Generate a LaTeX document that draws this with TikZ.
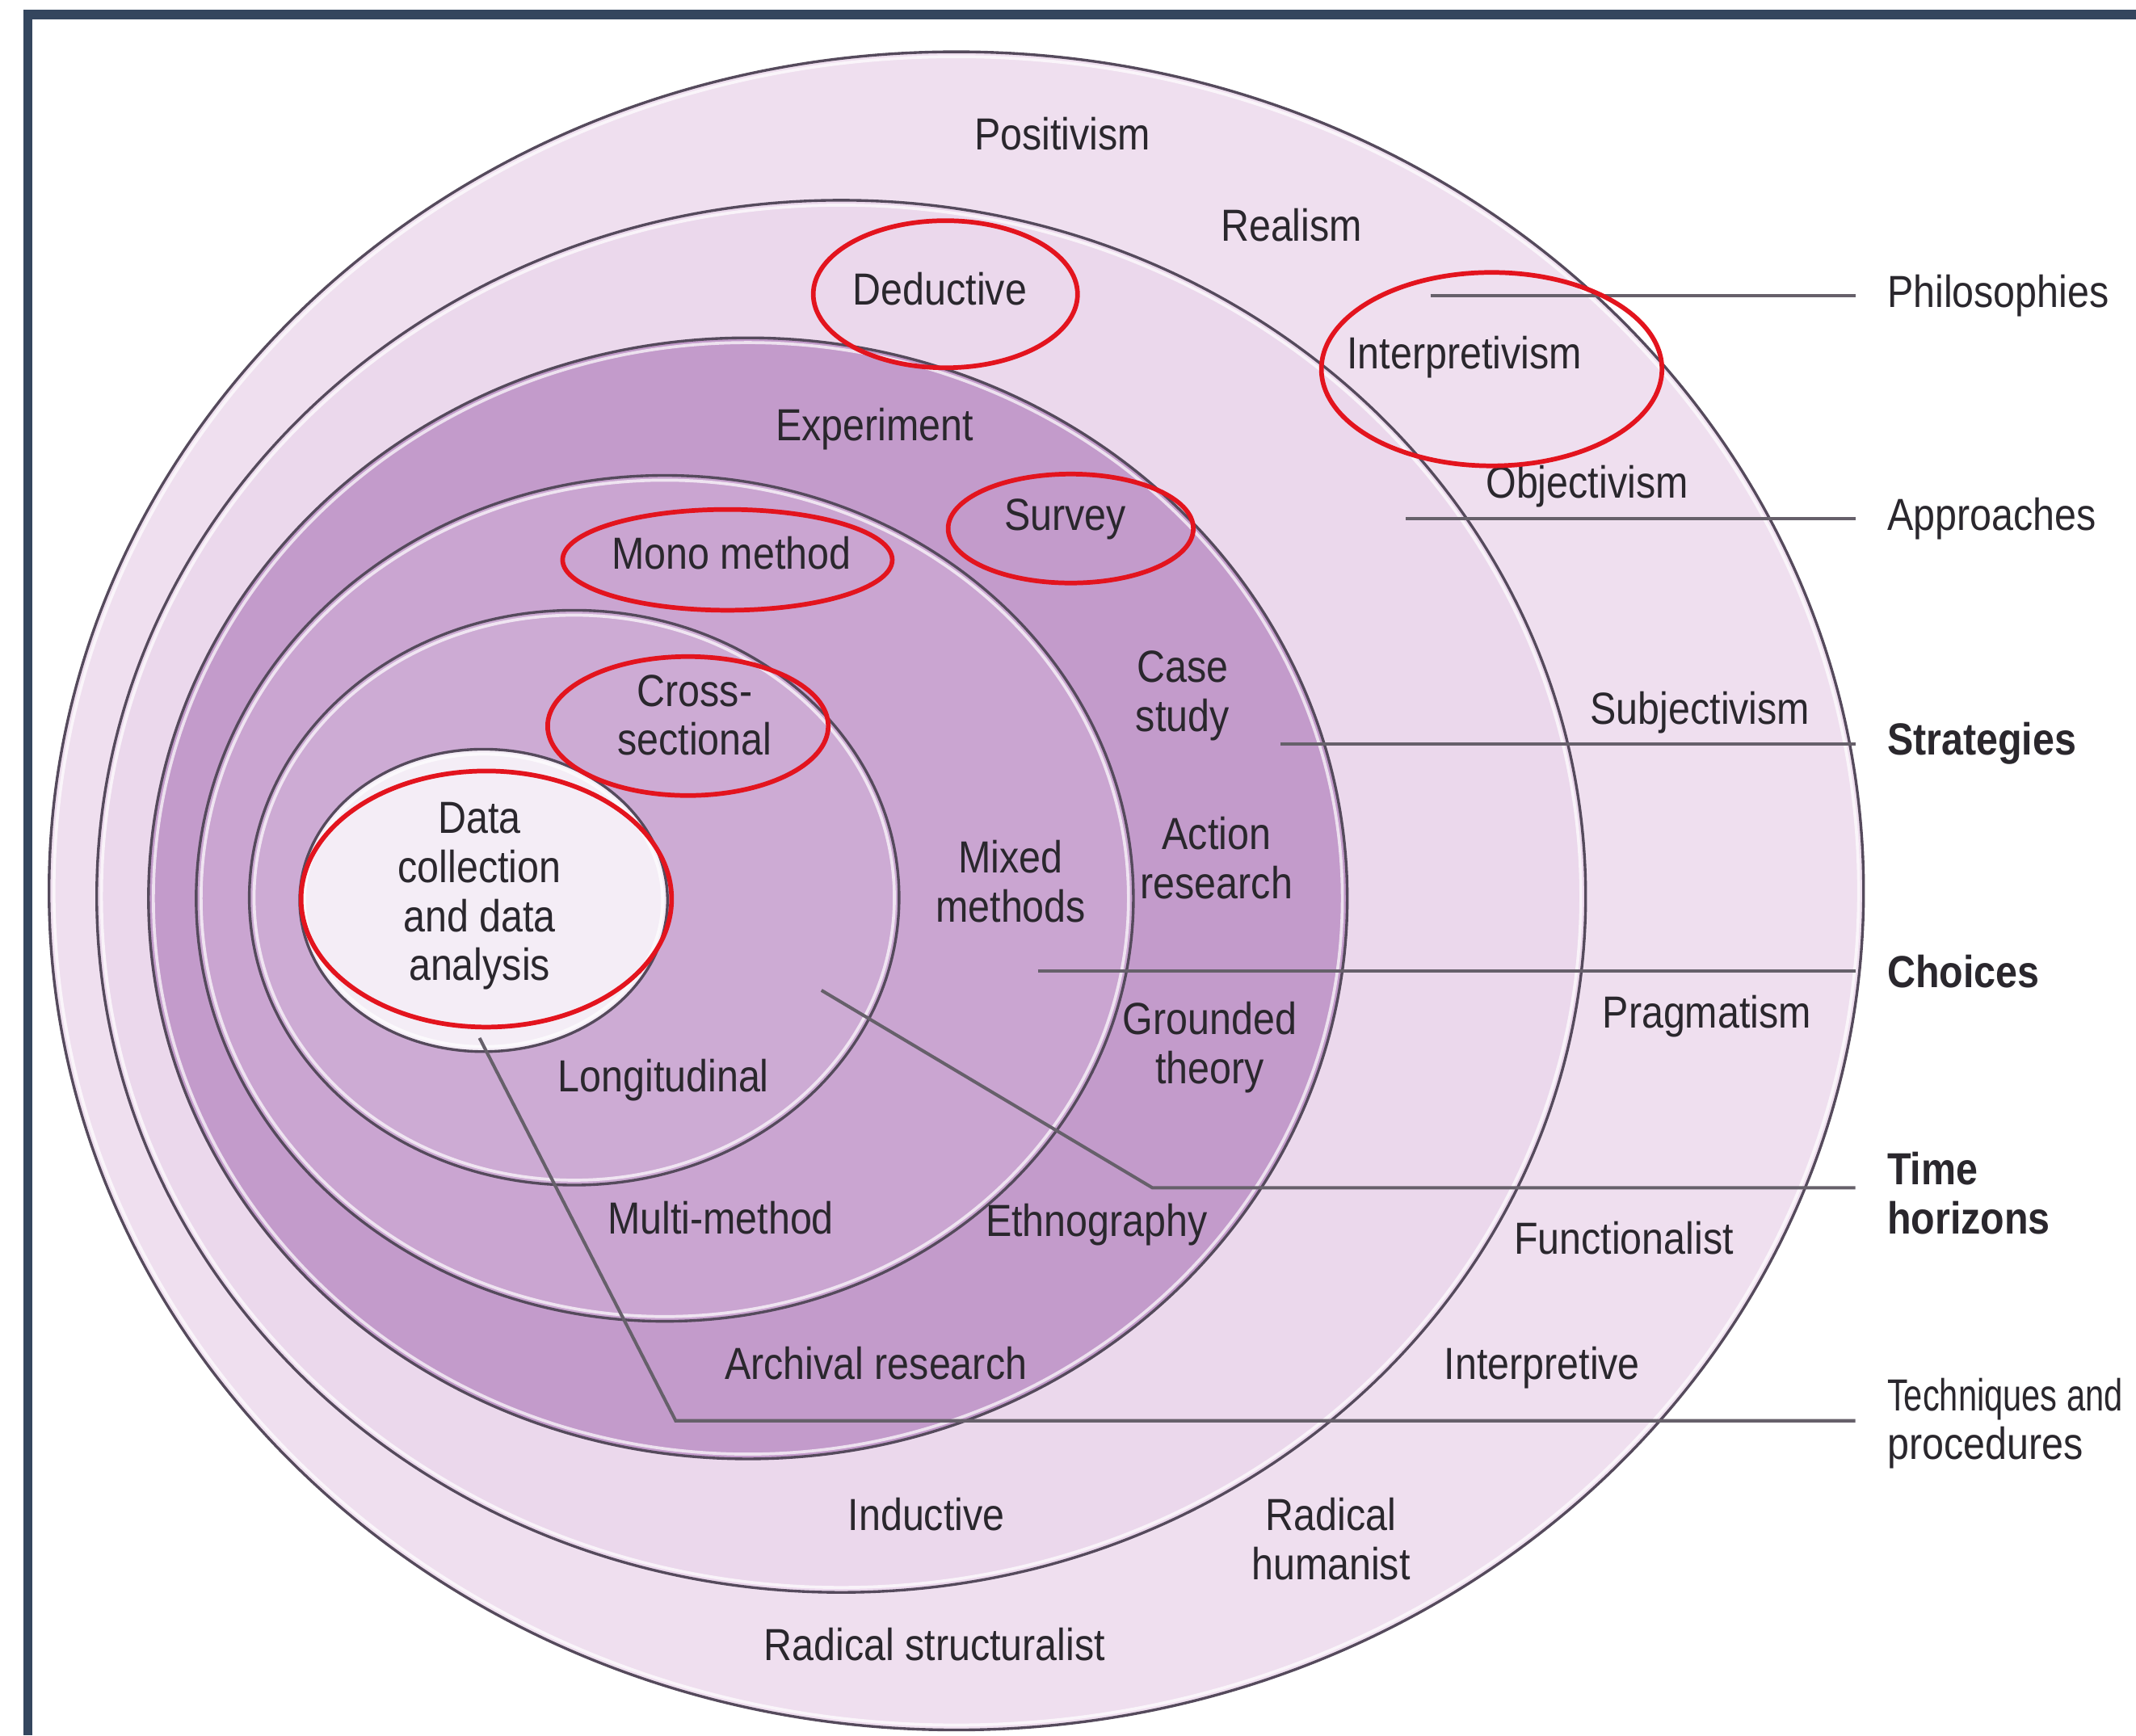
\documentclass[tikz,border=0pt]{standalone}
\usepackage{fontspec}
\setmainfont[FakeStretch=0.87]{Liberation Sans}
\definecolor{ringA}{HTML}{EFDFEF}
\definecolor{ringB}{HTML}{EBD8EC}
\definecolor{ringC}{HTML}{C39BCB}
\definecolor{ringD}{HTML}{CAA5D1}
\definecolor{ringE}{HTML}{CDABD4}
\definecolor{coreC}{HTML}{F4EDF6}
\definecolor{edge}{HTML}{554A5C}
\definecolor{conn}{HTML}{66606A}
\definecolor{txt}{HTML}{2A272D}
\definecolor{redmark}{HTML}{E3141E}
\definecolor{frameC}{HTML}{34465E}
\begin{document}
\begin{tikzpicture}[x=0.5pt,y=-0.5pt,
  lbl/.style={font=\fontsize{16.5}{18}\selectfont, text=txt, align=center, inner sep=0pt},
  side/.style={font=\fontsize{16.5}{18}\selectfont, text=txt, align=left, anchor=west, inner xsep=11.5pt, inner ysep=0pt},
  sideb/.style={side, font=\fontsize{16.5}{18}\selectfont\bfseries},
  ringline/.style={draw=edge, line width=1pt},
  shine/.style={draw=white, line width=1.1pt, opacity=0.7},
  conline/.style={draw=conn, line width=1.2pt},
  redring/.style={draw=redmark, line width=1.7pt}]
\useasboundingbox (0,0) rectangle (1568,1274);
\fill[white] (0,0) rectangle (1568,1274);
% frame
\fill[frameC] (17,7) rectangle (1568,14);
\fill[frameC] (17,7) rectangle (24,1274);
% ring fills
\fill[ringA] (702,654) ellipse [x radius=333pt, y radius=308pt];
\fill[ringB] (617.5,658) ellipse [x radius=273.25pt, y radius=255.5pt];
\fill[ringC] (549,659.5) ellipse [x radius=220pt, y radius=205.75pt];
\fill[ringD] (488,659.5) ellipse [x radius=172pt, y radius=155.25pt];
\fill[ringE] (421.5,659) ellipse [x radius=119.25pt, y radius=105.5pt];
\fill[coreC] (355,661) ellipse [x radius=67.5pt, y radius=55.5pt];
% highlights
\draw[shine] (702,654) ellipse [x radius=331.2pt, y radius=306.2pt];
\draw[shine] (617.5,658) ellipse [x radius=271.5pt, y radius=253.7pt];
\draw[shine] (549,659.5) ellipse [x radius=218.2pt, y radius=204pt];
\draw[shine] (488,659.5) ellipse [x radius=170.2pt, y radius=153.5pt];
\draw[shine] (421.5,659) ellipse [x radius=117.5pt, y radius=103.7pt];
\draw[shine] (355,661) ellipse [x radius=65.7pt, y radius=53.7pt];
% ring outlines
\draw[ringline] (702,654) ellipse [x radius=333pt, y radius=308pt];
\draw[ringline] (617.5,658) ellipse [x radius=273.25pt, y radius=255.5pt];
\draw[ringline] (549,659.5) ellipse [x radius=220pt, y radius=205.75pt];
\draw[ringline] (488,659.5) ellipse [x radius=172pt, y radius=155.25pt];
\draw[ringline] (421.5,659) ellipse [x radius=119.25pt, y radius=105.5pt];
\draw[ringline] (355,661) ellipse [x radius=67.5pt, y radius=55.5pt];

% ring labels
\node[lbl] (positivism) at (780,98) {Positivism};
\node[lbl] (realism) at (948,165) {Realism};
\node[lbl] (deductive) at (690,212) {Deductive};
\node[lbl] (interpretivism) at (1075,262) {Interpretivism};
\node[lbl] (experiment) at (642,315) {Experiment};
\node[lbl] (objectivism) at (1165,357) {Objectivism};
\node[lbl] (survey) at (782,381) {Survey};
\node[lbl] (mono) at (537,406) {Mono method};
\node[lbl] (casestudy) at (868,511) {Case\\study};
\node[lbl] (cross) at (510,525) {Cross-\\sectional};
\node[lbl] (subjectivism) at (1248,523) {Subjectivism};
\node[lbl] (datacoll) at (352,658) {Data\\collection\\and data\\analysis};
\node[lbl] (mixed) at (742,647) {Mixed\\methods};
\node[lbl] (action) at (893,630) {Action\\research};
\node[lbl] (pragmatism) at (1253,746) {Pragmatism};
\node[lbl] (grounded) at (888,769) {Grounded\\theory};
\node[lbl] (longit) at (487,793) {Longitudinal};
\node[lbl] (multi) at (529,894) {Multi-method};
\node[lbl] (ethno) at (805,899) {Ethnography};
\node[lbl] (functionalist) at (1192,909) {Functionalist};
\node[lbl] (archival) at (643,1001) {Archival research};
\node[lbl] (interpretive) at (1132,1004) {Interpretive};
\node[lbl] (inductive) at (680,1112) {Inductive};
\node[lbl] (radhum) at (977,1130) {Radical\\humanist};
\node[lbl] (radstruct) at (686,1207) {Radical structuralist};

% side labels
\node[side] (phil) at (1362,217) {Philosophies};
\node[side] (appr) at (1362,381) {Approaches};
\node[sideb] (strat) at (1362,546) {Strategies};
\node[sideb] (choices) at (1362,713) {Choices};
\node[sideb] (timeh) at (1362,876) {Time\\horizons};
\node[side] (techp) at (1362,1045) {\scalebox{0.86}[1]{Techniques and}\\procedures};

% connectors
\coordinate (phS) at (1050,217);
\coordinate (apS) at (1032,381);
\coordinate (stS) at (940,546);
\coordinate (chS) at (762,713);
\coordinate (thS) at (603,727);
\coordinate (thK) at (846,872);
\coordinate (tpS) at (352,762);
\coordinate (tpK) at (496,1043);
\draw[conline] (phS) -- (phil.west);
\draw[conline] (apS) -- (appr.west);
\draw[conline] (stS) -- (strat.west);
\draw[conline] (chS) -- (choices.west);
\draw[conline] (thS) -- (thK) -- (thK -| timeh.west);
\draw[conline] (tpS) -- (tpK) -- (tpK -| techp.west);

% red hand-drawn marks
\draw[redring] (694,216) ellipse [x radius=48.5pt, y radius=27pt];
\draw[redring] (1095,271) ellipse [x radius=62.5pt, y radius=35.5pt];
\draw[redring] (786,388) ellipse [x radius=45pt, y radius=20pt];
\draw[redring] (534,411) ellipse [x radius=60.5pt, y radius=18.5pt];
\draw[redring] (505,533) ellipse [x radius=51.5pt, y radius=25.5pt];
\draw[redring] (357,660) ellipse [x radius=68pt, y radius=47pt];
\end{tikzpicture}
\end{document}
